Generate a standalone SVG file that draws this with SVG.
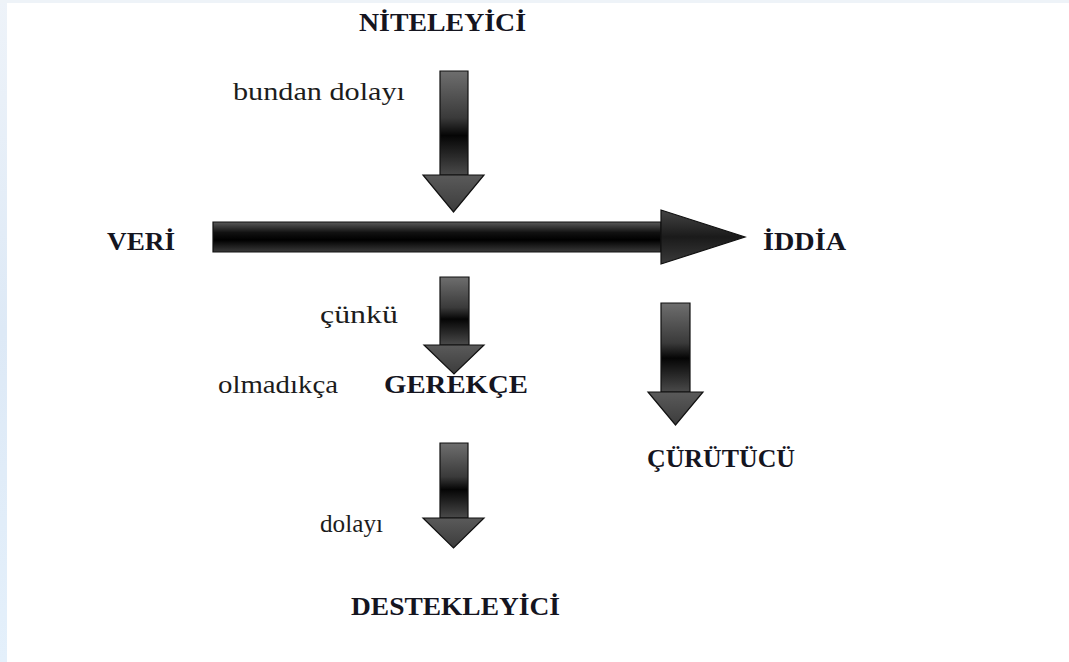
<svg xmlns="http://www.w3.org/2000/svg" width="1069" height="662" viewBox="0 0 1069 662">
<defs>
<linearGradient id="bg" x1="0" y1="0" x2="0" y2="1">
<stop offset="0" stop-color="#eef3f9"/>
<stop offset="0.5" stop-color="#dde9f6"/>
<stop offset="1" stop-color="#e4f0fb"/>
</linearGradient>
<linearGradient id="vshaft" x1="0" y1="0" x2="0" y2="1">
<stop offset="0" stop-color="#6e6e6e"/>
<stop offset="0.45" stop-color="#3a3a3a"/>
<stop offset="0.62" stop-color="#050505"/>
<stop offset="1" stop-color="#4a4a4a"/>
</linearGradient>
<linearGradient id="vhead" x1="0" y1="0" x2="0" y2="1">
<stop offset="0" stop-color="#5a5a5a"/>
<stop offset="1" stop-color="#3c3c3c"/>
</linearGradient>
<linearGradient id="hshaft" x1="0" y1="0" x2="0" y2="1">
<stop offset="0" stop-color="#5a5a5a"/>
<stop offset="0.35" stop-color="#111"/>
<stop offset="0.6" stop-color="#000"/>
<stop offset="1" stop-color="#3a3a3a"/>
</linearGradient>
<linearGradient id="hhead" x1="0" y1="0" x2="0" y2="1">
<stop offset="0" stop-color="#444"/>
<stop offset="0.5" stop-color="#1a1a1a"/>
<stop offset="1" stop-color="#3a3a3a"/>
</linearGradient>
</defs>
<style>
.cap{font-family:"Liberation Serif","Times New Roman",serif;font-weight:bold;font-size:26px;fill:#15151f}
.lbl{font-family:"Liberation Serif","Times New Roman",serif;font-size:26px;fill:#1c1c1c}
.sh{stroke:#111;stroke-width:1.2}
</style>
<rect x="0" y="0" width="1069" height="662" fill="#ffffff"/>
<rect x="0" y="0" width="7" height="662" fill="url(#bg)"/>
<rect x="0" y="0" width="1069" height="3" fill="#eef3f8"/>

<g id="connectors">
<g id="arrow-top">
<path class="sh" d="M440,71 H468 V175 H440 Z" fill="url(#vshaft)"/>
<path class="sh" d="M423,175 H484 L453.5,212 Z" fill="url(#vhead)"/>
</g>
<g id="arrow-main">
<path class="sh" d="M213,222 H661 V252 H213 Z" fill="url(#hshaft)"/>
<path class="sh" d="M661,210 L745,237 L661,264 Z" fill="url(#hhead)"/>
</g>
<g id="arrow-mid">
<path class="sh" d="M440,277 H469 V345 H440 Z" fill="url(#vshaft)"/>
<path class="sh" d="M424,345 H484 L454,374 Z" fill="url(#vhead)"/>
</g>
<g id="arrow-right">
<path class="sh" d="M661,303 H690 V392 H661 Z" fill="url(#vshaft)"/>
<path class="sh" d="M648,392 H703 L675.5,425 Z" fill="url(#vhead)"/>
</g>
<g id="arrow-bottom">
<path class="sh" d="M440,443 H468 V518 H440 Z" fill="url(#vshaft)"/>
<path class="sh" d="M423,518 H484 L453.5,548 Z" fill="url(#vhead)"/>
</g>
</g>

<g id="node-niteleyici"><text class="cap" x="359" y="31" textLength="167" lengthAdjust="spacingAndGlyphs">NİTELEYİCİ</text></g>
<g id="label-bundan-dolayi"><text class="lbl" x="233" y="100" textLength="172" lengthAdjust="spacingAndGlyphs">bundan dolayı</text></g>
<g id="node-veri"><text class="cap" x="107" y="250" textLength="68" lengthAdjust="spacingAndGlyphs">VERİ</text></g>
<g id="node-iddia"><text class="cap" x="763" y="250" textLength="83" lengthAdjust="spacingAndGlyphs">İDDİA</text></g>
<g id="label-cunku"><text class="lbl" x="320" y="323" textLength="78" lengthAdjust="spacingAndGlyphs">çünkü</text></g>
<g id="label-olmadikca"><text class="lbl" x="218" y="393" textLength="120" lengthAdjust="spacingAndGlyphs">olmadıkça</text></g>
<g id="node-gerekce"><text class="cap" x="384" y="393" textLength="144" lengthAdjust="spacingAndGlyphs">GEREKÇE</text></g>
<g id="node-curutucu"><text class="cap" x="647" y="467" textLength="148" lengthAdjust="spacingAndGlyphs">ÇÜRÜTÜCÜ</text></g>
<g id="label-dolayi"><text class="lbl" x="320" y="532" textLength="63" lengthAdjust="spacingAndGlyphs">dolayı</text></g>
<g id="node-destekleyici"><text class="cap" x="351" y="615" textLength="209" lengthAdjust="spacingAndGlyphs">DESTEKLEYİCİ</text></g>
</svg>
